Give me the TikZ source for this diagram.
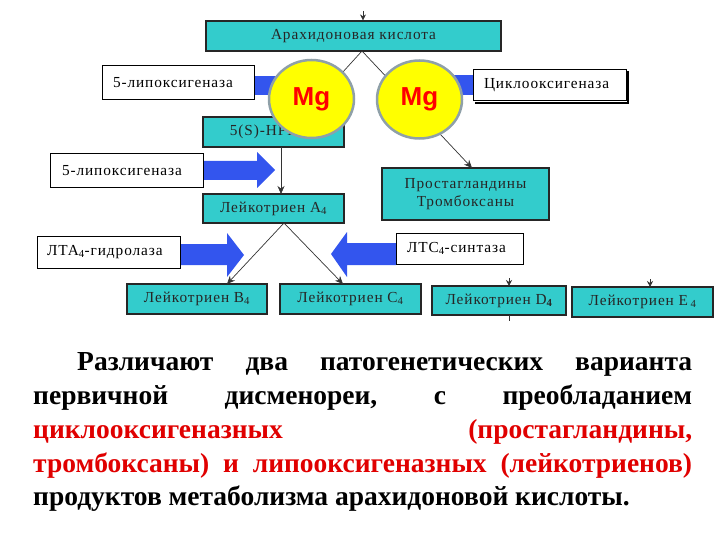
\documentclass[tikz,border=0pt]{standalone}
\usepackage{fontspec}
\setmainfont{Liberation Serif}
\newfontfamily\diagfont[LetterSpace=6]{Liberation Serif}
\newfontfamily\mgfont{Liberation Sans}
\usetikzlibrary{arrows.meta,shapes.geometric}
\definecolor{boxcyan}{HTML}{33CCCC}
\definecolor{arrowblue}{HTML}{3355EE}
\definecolor{mgyellow}{HTML}{FFFF00}
\definecolor{mgring}{HTML}{8FA0A8}
\definecolor{txtred}{HTML}{E00000}
\begin{document}
\begin{tikzpicture}[x=1pt,y=-1pt,
  cbox/.style={draw=black!85, line width=1.1pt, fill=boxcyan, inner sep=0pt,
    font=\diagfont\fontsize{15.3}{18}\selectfont, text=black!85, align=center},
  wbox/.style={draw=black, line width=1pt, fill=white, inner ysep=0pt,
    font=\diagfont\fontsize{15.3}{18}\selectfont, text=black, align=left},
  conn/.style={draw=black!80, line width=0.7pt, -{Stealth[length=8pt,width=7pt]}},
  tinyconn/.style={draw=black!80, line width=0.7pt, -{Stealth[length=6pt,width=6pt]}},
  blockarrow/.style={fill=arrowblue, draw=none},
  mgdisc/.style={ellipse, draw=mgring, line width=2.5pt, fill=mgyellow,
    minimum width=85pt, minimum height=78pt, inner sep=0pt,
    font=\mgfont\bfseries\fontsize{26}{26}\selectfont, text=red},
  para/.style={anchor=base west, inner sep=0pt, font=\bfseries\fontsize{27.5}{30}\selectfont}
]
\useasboundingbox (0,0) rectangle (720,540);

% boxes
\node[cbox, minimum width=295pt, minimum height=30pt] (arach) at (353.5,36) {Арахидоновая кислота};
\node[cbox, minimum width=141pt, minimum height=30pt] (hpete) at (273.5,132) {5(S)-HPETE};
\node[cbox, minimum width=141pt, minimum height=29pt] (a4) at (273.5,208.5) {Лейкотриен А\textsubscript{4}};
\node[cbox, minimum width=167pt, minimum height=52pt] (pg) at (465.5,194) {Простагландины\\Тромбоксаны};
\node[cbox, minimum width=140pt, minimum height=30pt] (b4) at (197,299) {Лейкотриен В\textsubscript{4}};
\node[cbox, minimum width=141pt, minimum height=30pt] (c4) at (350.5,299) {Лейкотриен С\textsubscript{4}};
\node[cbox, minimum width=134pt, minimum height=29pt] (d4) at (499,300.5) {Лейкотриен D\textsubscript{\bfseries 4}};
\node[cbox, minimum width=141pt, minimum height=30pt] (e4) at (642.5,302) {Лейкотриен Е\,\textsubscript{4}};

% block arrows
\fill[blockarrow] (254,76) rectangle (300,95);
\fill[blockarrow] (440,75) rectangle (473,95);
\fill[blockarrow] (203,161) -- (257,161) -- (257,152) -- (275,170) -- (257,188) -- (257,180) -- (203,180) -- cycle;
\fill[blockarrow] (180,244) -- (227,244) -- (227,233) -- (244,255) -- (227,277) -- (227,265) -- (180,265) -- cycle;
\fill[blockarrow] (396,243) -- (347,243) -- (347,232) -- (331,254) -- (347,277) -- (347,265) -- (396,265) -- cycle;

% white enzyme boxes
\node[wbox, text width=130pt, inner xsep=11pt, minimum height=34pt] (lip1) at (178,83) {5-липоксигеназа};
\node[wbox, text width=131pt, inner xsep=11pt, minimum height=31pt] (cyclo) at (549.5,85.5) {Циклооксигеназа};
\node[wbox, text width=129pt, inner xsep=12pt, minimum height=34pt] (lip2) at (126.5,171) {5-липоксигеназа};
\node[wbox, text width=123pt, inner xsep=10pt, minimum height=32pt] (lta) at (108.5,252) {ЛТА\textsubscript{4}-гидролаза};
\node[wbox, text width=105pt, inner xsep=11pt, minimum height=31pt] (ltc) at (459.5,248.5) {ЛТС\textsubscript{4}-синтаза};
\draw[black, line width=2pt] ([xshift=1.5pt,yshift=-2pt]cyclo.north east) -- ([xshift=1.5pt,yshift=-1.5pt]cyclo.south east) -- ([xshift=2pt,yshift=-1.5pt]cyclo.south west);

% connectors
\coordinate (topin) at (363,11);
\coordinate (apex) at (362,51);
\coordinate (hpin) at (302,117);
\coordinate (pgin) at (472,168);
\coordinate (hpout) at (281,147);
\coordinate (a4in) at (281,194);
\coordinate (a4out) at (284,223);
\coordinate (b4in) at (227,284);
\coordinate (c4in) at (343,284);
\coordinate (d4top) at (509,278);
\coordinate (d4in) at (509,286);
\coordinate (d4out) at (509,315);
\coordinate (d4end) at (509,321);
\coordinate (e4top) at (650,279);
\coordinate (e4in) at (650,287);
\draw[tinyconn] (topin) -- (topin |- arach.north);
\draw[conn] (apex) -- (hpin);
\draw[conn] (apex) -- (pgin);
\draw[conn] (hpout) -- (a4in);
\draw[conn] (a4out) -- (b4in);
\draw[conn] (a4out) -- (c4in);
\draw[tinyconn] (d4top) -- (d4in);
\draw[draw=black!80, line width=0.7pt] (d4out) -- (d4end);
\draw[tinyconn] (e4top) -- (e4in);

% Mg discs
\node[mgdisc] (mgl) at (311.5,99) {Mg};
\node[mgdisc] (mgr) at (419.5,99.5) {Mg};

% paragraph
\node[para] (l1) at (77,370) {\hbox to 615pt{Различают\hfill два\hfill патогенетических\hfill варианта}};
\node[para] (l2) at (33,404) {\hbox to 659pt{первичной\hfill дисменореи,\hfill с\hfill преобладанием}};
\node[para, text=txtred] (l3) at (33,438) {\hbox to 659pt{циклооксигеназных\hfill (простагландины,}};
\node[para, text=txtred] (l4) at (33,472) {\hbox to 659pt{тромбоксаны)\hfill и\hfill липооксигеназных\hfill (лейкотриенов)}};
\node[para] (l5) at (33,505) {продуктов метаболизма арахидоновой кислоты.};
\end{tikzpicture}
\end{document}
